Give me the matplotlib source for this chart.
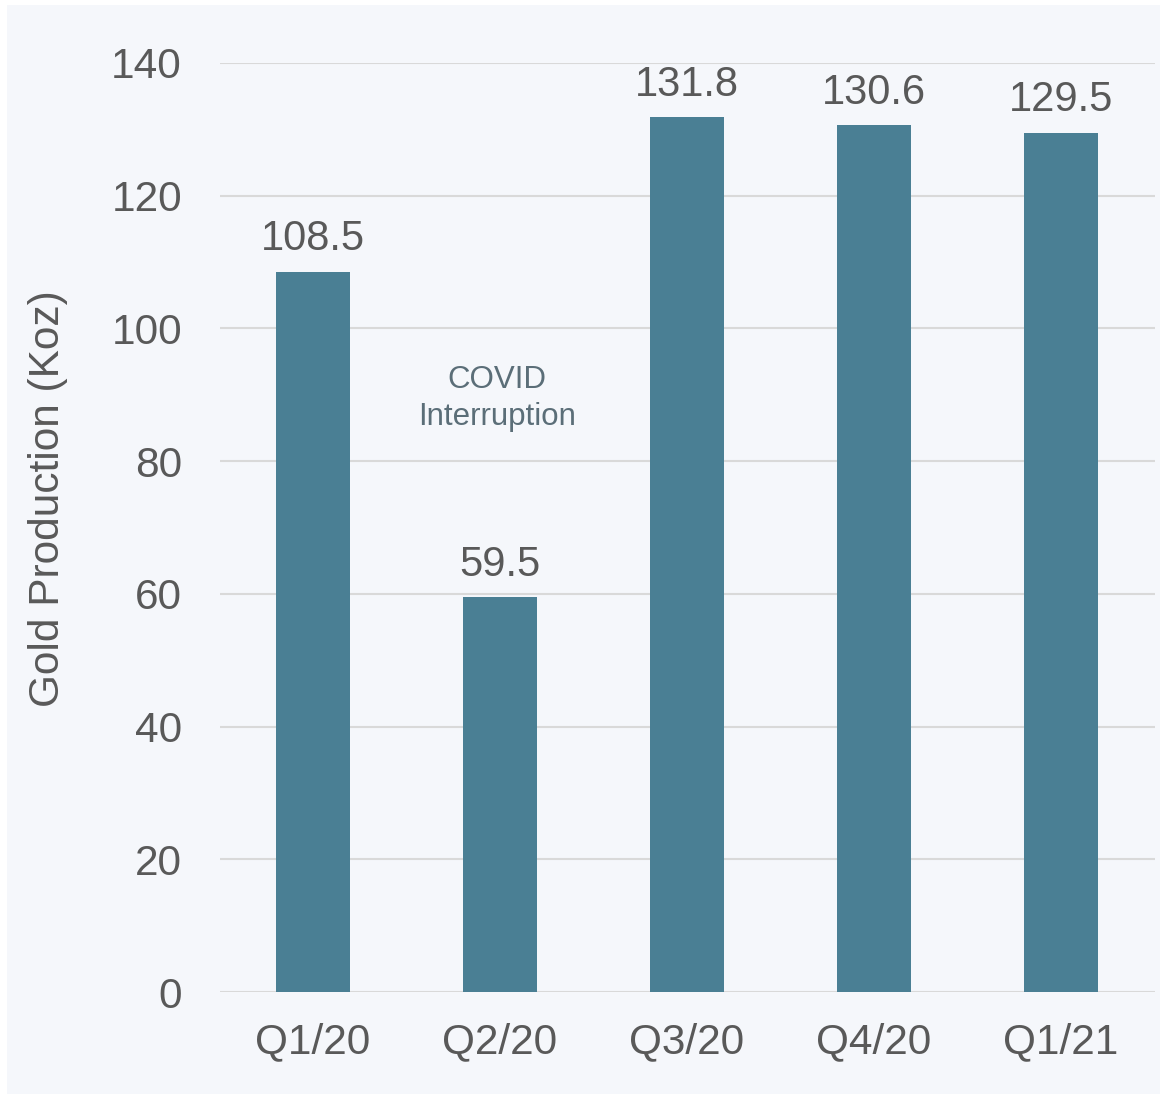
import matplotlib
matplotlib.use("Agg")
import matplotlib.pyplot as plt
from matplotlib.patches import Rectangle

categories = ["Q1/20", "Q2/20", "Q3/20", "Q4/20", "Q1/21"]
values = [108.5, 59.5, 131.8, 130.6, 129.5]
value_labels = ["108.5", "59.5", "131.8", "130.6", "129.5"]
yticks = [0, 20, 40, 60, 80, 100, 120, 140]
annotation = "COVID\nInterruption"

plt.rcParams['font.family'] = ['Liberation Sans', 'DejaVu Sans']
TXT = '#595959'
BAR = '#4a7f94'
BG = '#f5f7fb'

fig = plt.figure(figsize=(11.6, 10.94), dpi=100, facecolor='white')
fig.patches.append(Rectangle((7/1160, 0), 1 - 7/1160, 1 - 5/1094,
                             transform=fig.transFigure, facecolor=BG,
                             edgecolor='none', zorder=-10))

ax = fig.add_axes([219.5/1160, 102/1094, 935/1160, 929/1094])
ax.set_facecolor('none')
x = list(range(len(categories)))
ax.bar(x, values, width=0.396, color=BAR, zorder=3)
ax.set_xlim(-0.5, 4.5)
ax.set_ylim(0, 140)
ax.set_yticks(yticks)
ax.set_xticks(x)
ax.set_xticklabels(categories)
ax.grid(axis='y', color='#d9d9d9', linewidth=1.5, zorder=0)
ax.set_axisbelow(True)
for s in ax.spines.values():
    s.set_visible(False)
ax.tick_params(axis='both', length=0, labelcolor=TXT, labelsize=30.5)
ax.tick_params(axis='y', pad=27)
ax.tick_params(axis='x', pad=22)

for xi, v, lab in zip(x, values, value_labels):
    ax.annotate(lab, (xi, v), xytext=(0, 15.5), textcoords='offset points',
                ha='center', va='baseline', fontsize=30, color=TXT)

ax.text(0.985, 89.5, annotation, ha='center', va='center', fontsize=22.5,
        color='#5b6e78', linespacing=1.3)

fig.text(48/1160, 1 - 499/1094, "Gold Production (Koz)", rotation=90,
         ha='center', va='center', fontsize=30.5, color=TXT)

fig.savefig("out.png", dpi=100, facecolor='white')
